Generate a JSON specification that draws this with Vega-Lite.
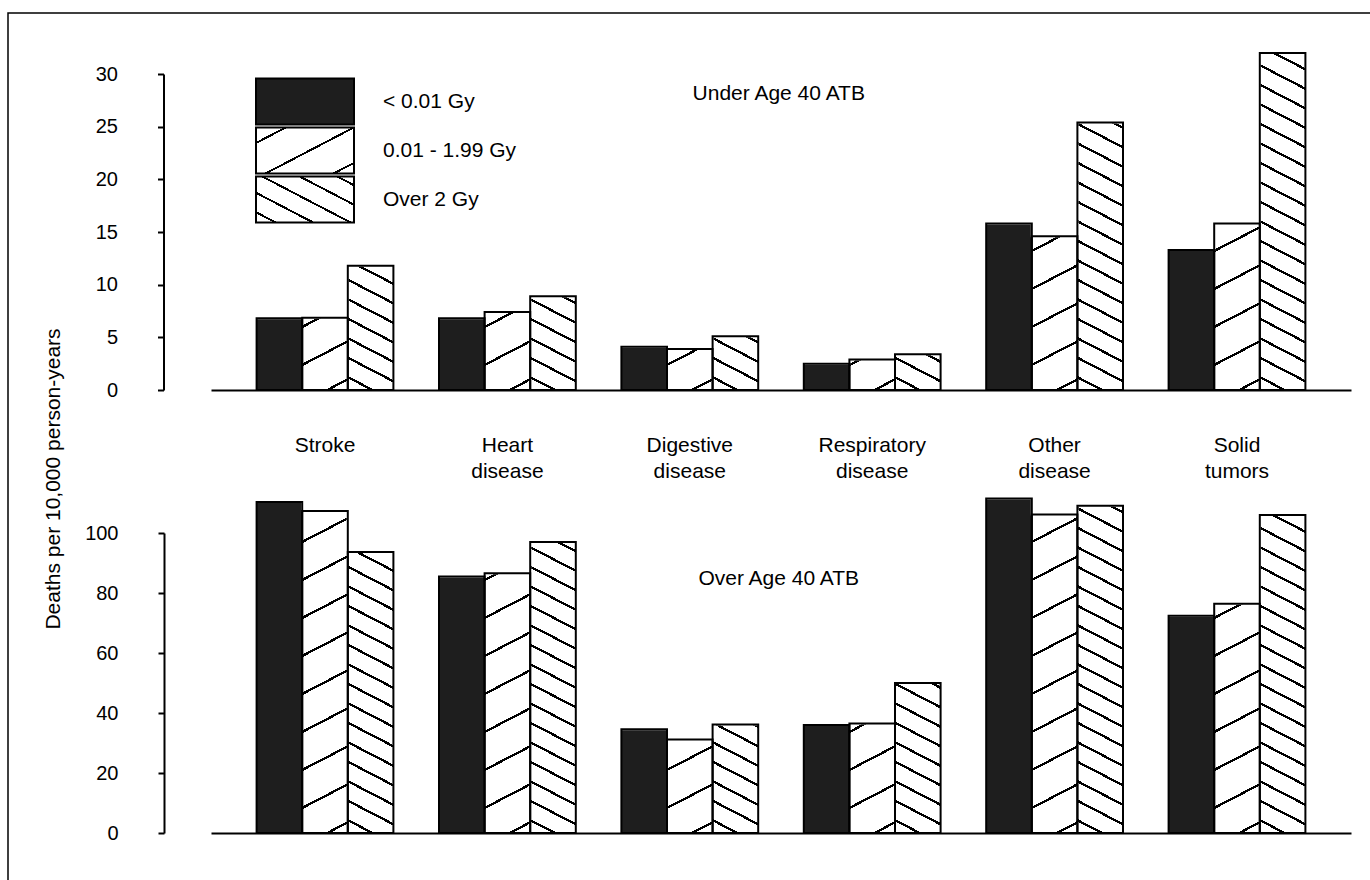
{
  "$schema": "https://vega.github.io/schema/vega-lite/v6.json",
  "usermeta": {"embedOptions": {"actions": false}},
  "width": 1374,
  "height": 879,
  "autosize": {"type": "none"},
  "padding": {"left": 8, "top": 13, "right": -12, "bottom": -12},
  "background": "white",
  "config": {
    "font": "Liberation Sans",
    "view": {"stroke": "black", "strokeWidth": 1.5, "strokeDash": [1374, 2253, 879]},
    "axis": {
      "domainColor": "black", "tickColor": "black", "labelColor": "black", "titleColor": "black",
      "labelFontSize": 20, "titleFontSize": 21, "titleFontWeight": "normal",
      "domainWidth": 2, "tickWidth": 2, "grid": false
    }
  },
  "data": {
    "values": [
      {"age": "Under Age 40 ATB", "cause": "Stroke", "dose": "< 0.01 Gy", "rate": 6.8},
      {"age": "Under Age 40 ATB", "cause": "Stroke", "dose": "0.01 - 1.99 Gy", "rate": 6.85},
      {"age": "Under Age 40 ATB", "cause": "Stroke", "dose": "Over 2 Gy", "rate": 11.8},
      {"age": "Under Age 40 ATB", "cause": "Heart disease", "dose": "< 0.01 Gy", "rate": 6.8},
      {"age": "Under Age 40 ATB", "cause": "Heart disease", "dose": "0.01 - 1.99 Gy", "rate": 7.4},
      {"age": "Under Age 40 ATB", "cause": "Heart disease", "dose": "Over 2 Gy", "rate": 8.9},
      {"age": "Under Age 40 ATB", "cause": "Digestive disease", "dose": "< 0.01 Gy", "rate": 4.1},
      {"age": "Under Age 40 ATB", "cause": "Digestive disease", "dose": "0.01 - 1.99 Gy", "rate": 3.9},
      {"age": "Under Age 40 ATB", "cause": "Digestive disease", "dose": "Over 2 Gy", "rate": 5.1},
      {"age": "Under Age 40 ATB", "cause": "Respiratory disease", "dose": "< 0.01 Gy", "rate": 2.5},
      {"age": "Under Age 40 ATB", "cause": "Respiratory disease", "dose": "0.01 - 1.99 Gy", "rate": 2.9},
      {"age": "Under Age 40 ATB", "cause": "Respiratory disease", "dose": "Over 2 Gy", "rate": 3.4},
      {"age": "Under Age 40 ATB", "cause": "Other disease", "dose": "< 0.01 Gy", "rate": 15.8},
      {"age": "Under Age 40 ATB", "cause": "Other disease", "dose": "0.01 - 1.99 Gy", "rate": 14.6},
      {"age": "Under Age 40 ATB", "cause": "Other disease", "dose": "Over 2 Gy", "rate": 25.4},
      {"age": "Under Age 40 ATB", "cause": "Solid tumors", "dose": "< 0.01 Gy", "rate": 13.3},
      {"age": "Under Age 40 ATB", "cause": "Solid tumors", "dose": "0.01 - 1.99 Gy", "rate": 15.8},
      {"age": "Under Age 40 ATB", "cause": "Solid tumors", "dose": "Over 2 Gy", "rate": 32.0},
      {"age": "Over Age 40 ATB", "cause": "Stroke", "dose": "< 0.01 Gy", "rate": 110.3},
      {"age": "Over Age 40 ATB", "cause": "Stroke", "dose": "0.01 - 1.99 Gy", "rate": 107.3},
      {"age": "Over Age 40 ATB", "cause": "Stroke", "dose": "Over 2 Gy", "rate": 93.7},
      {"age": "Over Age 40 ATB", "cause": "Heart disease", "dose": "< 0.01 Gy", "rate": 85.5},
      {"age": "Over Age 40 ATB", "cause": "Heart disease", "dose": "0.01 - 1.99 Gy", "rate": 86.6},
      {"age": "Over Age 40 ATB", "cause": "Heart disease", "dose": "Over 2 Gy", "rate": 97.0},
      {"age": "Over Age 40 ATB", "cause": "Digestive disease", "dose": "< 0.01 Gy", "rate": 34.6},
      {"age": "Over Age 40 ATB", "cause": "Digestive disease", "dose": "0.01 - 1.99 Gy", "rate": 31.2},
      {"age": "Over Age 40 ATB", "cause": "Digestive disease", "dose": "Over 2 Gy", "rate": 36.2},
      {"age": "Over Age 40 ATB", "cause": "Respiratory disease", "dose": "< 0.01 Gy", "rate": 36.0},
      {"age": "Over Age 40 ATB", "cause": "Respiratory disease", "dose": "0.01 - 1.99 Gy", "rate": 36.5},
      {"age": "Over Age 40 ATB", "cause": "Respiratory disease", "dose": "Over 2 Gy", "rate": 50.0},
      {"age": "Over Age 40 ATB", "cause": "Other disease", "dose": "< 0.01 Gy", "rate": 111.5},
      {"age": "Over Age 40 ATB", "cause": "Other disease", "dose": "0.01 - 1.99 Gy", "rate": 106.2},
      {"age": "Over Age 40 ATB", "cause": "Other disease", "dose": "Over 2 Gy", "rate": 109.1},
      {"age": "Over Age 40 ATB", "cause": "Solid tumors", "dose": "< 0.01 Gy", "rate": 72.4},
      {"age": "Over Age 40 ATB", "cause": "Solid tumors", "dose": "0.01 - 1.99 Gy", "rate": 76.4},
      {"age": "Over Age 40 ATB", "cause": "Solid tumors", "dose": "Over 2 Gy", "rate": 106.0}
    ]
  },
  "layer": [
    {
      "transform": [{"filter": "datum.age === 'Under Age 40 ATB'"}],
      "layer": [
        {
          "mark": {"type": "bar", "strokeWidth": 0},
          "encoding": {
            "x": {
              "field": "cause", "type": "nominal",
              "scale": {"domain": ["Stroke", "Heart disease", "Digestive disease", "Respiratory disease", "Other disease", "Solid tumors"], "range": [203, 1343], "paddingInner": 0.25, "paddingOuter": 0.25},
              "axis": {"orient": "bottom", "offset": -502, "title": null, "ticks": false, "tickSize": 0, "domainWidth": 2, "labelAngle": 0, "labelPadding": 44, "labelBaseline": "top", "labelLineHeight": 26, "labelExpr": "split(datum.label, ' ')", "labelFontSize": 21, "labelOverlap": false, "zindex": 1}
            },
            "xOffset": {"field": "dose", "type": "nominal", "scale": {"domain": ["< 0.01 Gy", "0.01 - 1.99 Gy", "Over 2 Gy"], "paddingInner": 0, "paddingOuter": 0}},
            "y": {
              "datum": 0, "type": "quantitative",
              "scale": {"domain": [0, 30], "range": [377, 61], "nice": false, "zero": false},
              "axis": {"orient": "left", "offset": -155.5, "values": [0, 5, 10, 15, 20, 25, 30], "tickSize": 6, "labelPadding": 40, "title": "Deaths per 10,000 person-years", "titleX": -104, "titleY": 465.5, "titleAngle": 270, "titleAlign": "center", "titleBaseline": "alphabetic", "zindex": 1}
            },
            "y2": {"datum": 33},
            "fill": {
              "condition": [
                {"test": "datum.dose === '0.01 - 1.99 Gy'", "value": {"gradient": "linear", "x1": 0, "y1": 0, "x2": 0.0724, "y2": 1.0633, "stops": [
                  {"offset": 0, "color": "#fff"},
                  {"offset": 0.0465, "color": "#fff"}, {"offset": 0.0465, "color": "#000"}, {"offset": 0.0535, "color": "#000"}, {"offset": 0.0535, "color": "#fff"},
                  {"offset": 0.1488, "color": "#fff"}, {"offset": 0.1488, "color": "#000"}, {"offset": 0.1558, "color": "#000"}, {"offset": 0.1558, "color": "#fff"},
                  {"offset": 0.2512, "color": "#fff"}, {"offset": 0.2512, "color": "#000"}, {"offset": 0.2582, "color": "#000"}, {"offset": 0.2582, "color": "#fff"},
                  {"offset": 0.3535, "color": "#fff"}, {"offset": 0.3535, "color": "#000"}, {"offset": 0.3605, "color": "#000"}, {"offset": 0.3605, "color": "#fff"},
                  {"offset": 0.4559, "color": "#fff"}, {"offset": 0.4559, "color": "#000"}, {"offset": 0.4629, "color": "#000"}, {"offset": 0.4629, "color": "#fff"},
                  {"offset": 0.5582, "color": "#fff"}, {"offset": 0.5582, "color": "#000"}, {"offset": 0.5652, "color": "#000"}, {"offset": 0.5652, "color": "#fff"},
                  {"offset": 0.6605, "color": "#fff"}, {"offset": 0.6605, "color": "#000"}, {"offset": 0.6675, "color": "#000"}, {"offset": 0.6675, "color": "#fff"},
                  {"offset": 0.7629, "color": "#fff"}, {"offset": 0.7629, "color": "#000"}, {"offset": 0.7699, "color": "#000"}, {"offset": 0.7699, "color": "#fff"},
                  {"offset": 0.8652, "color": "#fff"}, {"offset": 0.8652, "color": "#000"}, {"offset": 0.8722, "color": "#000"}, {"offset": 0.8722, "color": "#fff"},
                  {"offset": 0.9676, "color": "#fff"}, {"offset": 0.9676, "color": "#000"}, {"offset": 0.9746, "color": "#000"}, {"offset": 0.9746, "color": "#fff"},
                  {"offset": 1, "color": "#fff"}
                ]}},
                {"test": "datum.dose === 'Over 2 Gy'", "value": {"gradient": "linear", "x1": 1, "y1": 0, "x2": 0.9276, "y2": 1.0633, "stops": [
                  {"offset": 0, "color": "#fff"},
                  {"offset": 0.0165, "color": "#fff"}, {"offset": 0.0165, "color": "#000"}, {"offset": 0.0235, "color": "#000"}, {"offset": 0.0235, "color": "#fff"},
                  {"offset": 0.069, "color": "#fff"}, {"offset": 0.069, "color": "#000"}, {"offset": 0.076, "color": "#000"}, {"offset": 0.076, "color": "#fff"},
                  {"offset": 0.1215, "color": "#fff"}, {"offset": 0.1215, "color": "#000"}, {"offset": 0.1285, "color": "#000"}, {"offset": 0.1285, "color": "#fff"},
                  {"offset": 0.1741, "color": "#fff"}, {"offset": 0.1741, "color": "#000"}, {"offset": 0.1811, "color": "#000"}, {"offset": 0.1811, "color": "#fff"},
                  {"offset": 0.2266, "color": "#fff"}, {"offset": 0.2266, "color": "#000"}, {"offset": 0.2336, "color": "#000"}, {"offset": 0.2336, "color": "#fff"},
                  {"offset": 0.2791, "color": "#fff"}, {"offset": 0.2791, "color": "#000"}, {"offset": 0.2861, "color": "#000"}, {"offset": 0.2861, "color": "#fff"},
                  {"offset": 0.3316, "color": "#fff"}, {"offset": 0.3316, "color": "#000"}, {"offset": 0.3386, "color": "#000"}, {"offset": 0.3386, "color": "#fff"},
                  {"offset": 0.3841, "color": "#fff"}, {"offset": 0.3841, "color": "#000"}, {"offset": 0.3911, "color": "#000"}, {"offset": 0.3911, "color": "#fff"},
                  {"offset": 0.4366, "color": "#fff"}, {"offset": 0.4366, "color": "#000"}, {"offset": 0.4436, "color": "#000"}, {"offset": 0.4436, "color": "#fff"},
                  {"offset": 0.4892, "color": "#fff"}, {"offset": 0.4892, "color": "#000"}, {"offset": 0.4962, "color": "#000"}, {"offset": 0.4962, "color": "#fff"},
                  {"offset": 0.5417, "color": "#fff"}, {"offset": 0.5417, "color": "#000"}, {"offset": 0.5487, "color": "#000"}, {"offset": 0.5487, "color": "#fff"},
                  {"offset": 0.5942, "color": "#fff"}, {"offset": 0.5942, "color": "#000"}, {"offset": 0.6012, "color": "#000"}, {"offset": 0.6012, "color": "#fff"},
                  {"offset": 0.6467, "color": "#fff"}, {"offset": 0.6467, "color": "#000"}, {"offset": 0.6537, "color": "#000"}, {"offset": 0.6537, "color": "#fff"},
                  {"offset": 0.6992, "color": "#fff"}, {"offset": 0.6992, "color": "#000"}, {"offset": 0.7062, "color": "#000"}, {"offset": 0.7062, "color": "#fff"},
                  {"offset": 0.7518, "color": "#fff"}, {"offset": 0.7518, "color": "#000"}, {"offset": 0.7588, "color": "#000"}, {"offset": 0.7588, "color": "#fff"},
                  {"offset": 0.8043, "color": "#fff"}, {"offset": 0.8043, "color": "#000"}, {"offset": 0.8113, "color": "#000"}, {"offset": 0.8113, "color": "#fff"},
                  {"offset": 0.8568, "color": "#fff"}, {"offset": 0.8568, "color": "#000"}, {"offset": 0.8638, "color": "#000"}, {"offset": 0.8638, "color": "#fff"},
                  {"offset": 0.9093, "color": "#fff"}, {"offset": 0.9093, "color": "#000"}, {"offset": 0.9163, "color": "#000"}, {"offset": 0.9163, "color": "#fff"},
                  {"offset": 0.9618, "color": "#fff"}, {"offset": 0.9618, "color": "#000"}, {"offset": 0.9688, "color": "#000"}, {"offset": 0.9688, "color": "#fff"},
                  {"offset": 1, "color": "#fff"}
                ]}}
              ],
              "value": "#1e1e1e"
            }
          }
        },
        {
          "mark": {"type": "bar", "fill": "white", "stroke": "white", "strokeWidth": 2},
          "encoding": {
            "x": {"field": "cause", "type": "nominal"},
            "xOffset": {"field": "dose", "type": "nominal"},
            "y": {"field": "rate", "type": "quantitative"},
            "y2": {"datum": 33}
          }
        },
        {
          "mark": {"type": "bar", "fillOpacity": 0, "stroke": "black", "strokeWidth": 2},
          "encoding": {
            "x": {"field": "cause", "type": "nominal"},
            "xOffset": {"field": "dose", "type": "nominal"},
            "y": {"field": "rate", "type": "quantitative", "stack": null}
          }
        },
        {
          "mark": {"type": "rule", "strokeWidth": 2},
          "encoding": {
            "x": {"field": "cause", "type": "nominal"},
            "y": {"field": "rate", "type": "quantitative"},
            "y2": {"field": "rate"},
            "stroke": {
              "field": "dose", "type": "nominal",
              "scale": {"domain": ["< 0.01 Gy", "0.01 - 1.99 Gy", "Over 2 Gy"], "range": ["black", "black", "black"]},
              "legend": {
                "orient": "none", "legendX": 247, "legendY": 64, "title": null,
                "symbolType": "M-1,-0.47H1V0.47H-1Z", "symbolSize": 9604,
                "symbolStrokeWidth": 2, "clipHeight": 49, "rowPadding": 0,
                "labelFontSize": 21, "labelColor": "black", "labelOffset": 28, "labelLimit": 300,
                "labelExpr": "datum.label === 'Over 2 Gy' ? '\u00a0Over 2 Gy' : datum.label",
                "symbolFillColor": {"expr": "datum.value === '0.01 - 1.99 Gy' ? {gradient: 'linear', x1: 0, y1: 0, x2: 1.0484, y2: 0.9464, stops: [{offset: 0, color: '#fff'}, {offset: 0.1484, color: '#fff'}, {offset: 0.1484, color: '#000'}, {offset: 0.1716, color: '#000'}, {offset: 0.1716, color: '#fff'}, {offset: 0.5134, color: '#fff'}, {offset: 0.5134, color: '#000'}, {offset: 0.5366, color: '#000'}, {offset: 0.5366, color: '#fff'}, {offset: 0.8784, color: '#fff'}, {offset: 0.8784, color: '#000'}, {offset: 0.9016, color: '#000'}, {offset: 0.9016, color: '#fff'}, {offset: 1, color: '#fff'}]} : datum.value === 'Over 2 Gy' ? {gradient: 'linear', x1: 1, y1: 0, x2: -0.0484, y2: 0.9464, stops: [{offset: 0, color: '#fff'}, {offset: 0.0784, color: '#fff'}, {offset: 0.0784, color: '#000'}, {offset: 0.1016, color: '#000'}, {offset: 0.1016, color: '#fff'}, {offset: 0.2794, color: '#fff'}, {offset: 0.2794, color: '#000'}, {offset: 0.3026, color: '#000'}, {offset: 0.3026, color: '#fff'}, {offset: 0.4804, color: '#fff'}, {offset: 0.4804, color: '#000'}, {offset: 0.5036, color: '#000'}, {offset: 0.5036, color: '#fff'}, {offset: 0.6814, color: '#fff'}, {offset: 0.6814, color: '#000'}, {offset: 0.7046, color: '#000'}, {offset: 0.7046, color: '#fff'}, {offset: 0.8824, color: '#fff'}, {offset: 0.8824, color: '#000'}, {offset: 0.9056, color: '#000'}, {offset: 0.9056, color: '#fff'}, {offset: 1, color: '#fff'}]} : '#1e1e1e'"}
              }
            }
          }
        },
        {
          "data": {"values": [{"age": "Under Age 40 ATB"}]},
          "mark": {"type": "text", "fontSize": 21, "align": "center", "baseline": "alphabetic", "color": "black"},
          "encoding": {
            "x": {"datum": "Digestive disease", "type": "nominal", "bandPosition": 1.15},
            "y": {"datum": 27.5, "type": "quantitative"},
            "text": {"field": "age"}
          }
        }
      ]
    },
    {
      "transform": [{"filter": "datum.age === 'Over Age 40 ATB'"}],
      "layer": [
        {
          "mark": {"type": "bar", "strokeWidth": 0},
          "encoding": {
            "x": {
              "field": "cause", "type": "nominal",
              "axis": {"orient": "bottom", "offset": -59, "title": null, "ticks": false, "tickSize": 0, "labels": false, "domainWidth": 2, "zindex": 1}
            },
            "xOffset": {"field": "dose", "type": "nominal"},
            "y": {
              "datum": 0, "type": "quantitative",
              "scale": {"domain": [0, 100], "range": [820, 520], "nice": false, "zero": false},
              "axis": {"orient": "left", "offset": -156, "values": [0, 20, 40, 60, 80, 100], "tickSize": 6, "labelPadding": 40, "title": null, "zindex": 1}
            },
            "y2": {"datum": 115.87},
            "fill": {
              "condition": [
                {"test": "datum.dose === '0.01 - 1.99 Gy'", "value": {"gradient": "linear", "x1": 0, "y1": 0, "x2": 0.0724, "y2": 1.0633, "stops": [
                  {"offset": 0, "color": "#fff"},
                  {"offset": 0.0465, "color": "#fff"}, {"offset": 0.0465, "color": "#000"}, {"offset": 0.0535, "color": "#000"}, {"offset": 0.0535, "color": "#fff"},
                  {"offset": 0.1488, "color": "#fff"}, {"offset": 0.1488, "color": "#000"}, {"offset": 0.1558, "color": "#000"}, {"offset": 0.1558, "color": "#fff"},
                  {"offset": 0.2512, "color": "#fff"}, {"offset": 0.2512, "color": "#000"}, {"offset": 0.2582, "color": "#000"}, {"offset": 0.2582, "color": "#fff"},
                  {"offset": 0.3535, "color": "#fff"}, {"offset": 0.3535, "color": "#000"}, {"offset": 0.3605, "color": "#000"}, {"offset": 0.3605, "color": "#fff"},
                  {"offset": 0.4559, "color": "#fff"}, {"offset": 0.4559, "color": "#000"}, {"offset": 0.4629, "color": "#000"}, {"offset": 0.4629, "color": "#fff"},
                  {"offset": 0.5582, "color": "#fff"}, {"offset": 0.5582, "color": "#000"}, {"offset": 0.5652, "color": "#000"}, {"offset": 0.5652, "color": "#fff"},
                  {"offset": 0.6605, "color": "#fff"}, {"offset": 0.6605, "color": "#000"}, {"offset": 0.6675, "color": "#000"}, {"offset": 0.6675, "color": "#fff"},
                  {"offset": 0.7629, "color": "#fff"}, {"offset": 0.7629, "color": "#000"}, {"offset": 0.7699, "color": "#000"}, {"offset": 0.7699, "color": "#fff"},
                  {"offset": 0.8652, "color": "#fff"}, {"offset": 0.8652, "color": "#000"}, {"offset": 0.8722, "color": "#000"}, {"offset": 0.8722, "color": "#fff"},
                  {"offset": 0.9676, "color": "#fff"}, {"offset": 0.9676, "color": "#000"}, {"offset": 0.9746, "color": "#000"}, {"offset": 0.9746, "color": "#fff"},
                  {"offset": 1, "color": "#fff"}
                ]}},
                {"test": "datum.dose === 'Over 2 Gy'", "value": {"gradient": "linear", "x1": 1, "y1": 0, "x2": 0.9276, "y2": 1.0633, "stops": [
                  {"offset": 0, "color": "#fff"},
                  {"offset": 0.0165, "color": "#fff"}, {"offset": 0.0165, "color": "#000"}, {"offset": 0.0235, "color": "#000"}, {"offset": 0.0235, "color": "#fff"},
                  {"offset": 0.069, "color": "#fff"}, {"offset": 0.069, "color": "#000"}, {"offset": 0.076, "color": "#000"}, {"offset": 0.076, "color": "#fff"},
                  {"offset": 0.1215, "color": "#fff"}, {"offset": 0.1215, "color": "#000"}, {"offset": 0.1285, "color": "#000"}, {"offset": 0.1285, "color": "#fff"},
                  {"offset": 0.1741, "color": "#fff"}, {"offset": 0.1741, "color": "#000"}, {"offset": 0.1811, "color": "#000"}, {"offset": 0.1811, "color": "#fff"},
                  {"offset": 0.2266, "color": "#fff"}, {"offset": 0.2266, "color": "#000"}, {"offset": 0.2336, "color": "#000"}, {"offset": 0.2336, "color": "#fff"},
                  {"offset": 0.2791, "color": "#fff"}, {"offset": 0.2791, "color": "#000"}, {"offset": 0.2861, "color": "#000"}, {"offset": 0.2861, "color": "#fff"},
                  {"offset": 0.3316, "color": "#fff"}, {"offset": 0.3316, "color": "#000"}, {"offset": 0.3386, "color": "#000"}, {"offset": 0.3386, "color": "#fff"},
                  {"offset": 0.3841, "color": "#fff"}, {"offset": 0.3841, "color": "#000"}, {"offset": 0.3911, "color": "#000"}, {"offset": 0.3911, "color": "#fff"},
                  {"offset": 0.4366, "color": "#fff"}, {"offset": 0.4366, "color": "#000"}, {"offset": 0.4436, "color": "#000"}, {"offset": 0.4436, "color": "#fff"},
                  {"offset": 0.4892, "color": "#fff"}, {"offset": 0.4892, "color": "#000"}, {"offset": 0.4962, "color": "#000"}, {"offset": 0.4962, "color": "#fff"},
                  {"offset": 0.5417, "color": "#fff"}, {"offset": 0.5417, "color": "#000"}, {"offset": 0.5487, "color": "#000"}, {"offset": 0.5487, "color": "#fff"},
                  {"offset": 0.5942, "color": "#fff"}, {"offset": 0.5942, "color": "#000"}, {"offset": 0.6012, "color": "#000"}, {"offset": 0.6012, "color": "#fff"},
                  {"offset": 0.6467, "color": "#fff"}, {"offset": 0.6467, "color": "#000"}, {"offset": 0.6537, "color": "#000"}, {"offset": 0.6537, "color": "#fff"},
                  {"offset": 0.6992, "color": "#fff"}, {"offset": 0.6992, "color": "#000"}, {"offset": 0.7062, "color": "#000"}, {"offset": 0.7062, "color": "#fff"},
                  {"offset": 0.7518, "color": "#fff"}, {"offset": 0.7518, "color": "#000"}, {"offset": 0.7588, "color": "#000"}, {"offset": 0.7588, "color": "#fff"},
                  {"offset": 0.8043, "color": "#fff"}, {"offset": 0.8043, "color": "#000"}, {"offset": 0.8113, "color": "#000"}, {"offset": 0.8113, "color": "#fff"},
                  {"offset": 0.8568, "color": "#fff"}, {"offset": 0.8568, "color": "#000"}, {"offset": 0.8638, "color": "#000"}, {"offset": 0.8638, "color": "#fff"},
                  {"offset": 0.9093, "color": "#fff"}, {"offset": 0.9093, "color": "#000"}, {"offset": 0.9163, "color": "#000"}, {"offset": 0.9163, "color": "#fff"},
                  {"offset": 0.9618, "color": "#fff"}, {"offset": 0.9618, "color": "#000"}, {"offset": 0.9688, "color": "#000"}, {"offset": 0.9688, "color": "#fff"},
                  {"offset": 1, "color": "#fff"}
                ]}}
              ],
              "value": "#1e1e1e"
            }
          }
        },
        {
          "mark": {"type": "bar", "fill": "white", "stroke": "white", "strokeWidth": 2},
          "encoding": {
            "x": {"field": "cause", "type": "nominal"},
            "xOffset": {"field": "dose", "type": "nominal"},
            "y": {"field": "rate", "type": "quantitative"},
            "y2": {"datum": 115.87}
          }
        },
        {
          "mark": {"type": "bar", "fillOpacity": 0, "stroke": "black", "strokeWidth": 2},
          "encoding": {
            "x": {"field": "cause", "type": "nominal"},
            "xOffset": {"field": "dose", "type": "nominal"},
            "y": {"field": "rate", "type": "quantitative", "stack": null}
          }
        },
        {
          "data": {"values": [{"age": "Over Age 40 ATB"}]},
          "mark": {"type": "text", "fontSize": 21, "align": "center", "baseline": "alphabetic", "color": "black"},
          "encoding": {
            "x": {"datum": "Digestive disease", "type": "nominal", "bandPosition": 1.15},
            "y": {"datum": 82.7, "type": "quantitative"},
            "text": {"field": "age"}
          }
        }
      ]
    }
  ],
  "resolve": {"scale": {"y": "independent"}, "axis": {"x": "independent", "y": "independent"}}
}
